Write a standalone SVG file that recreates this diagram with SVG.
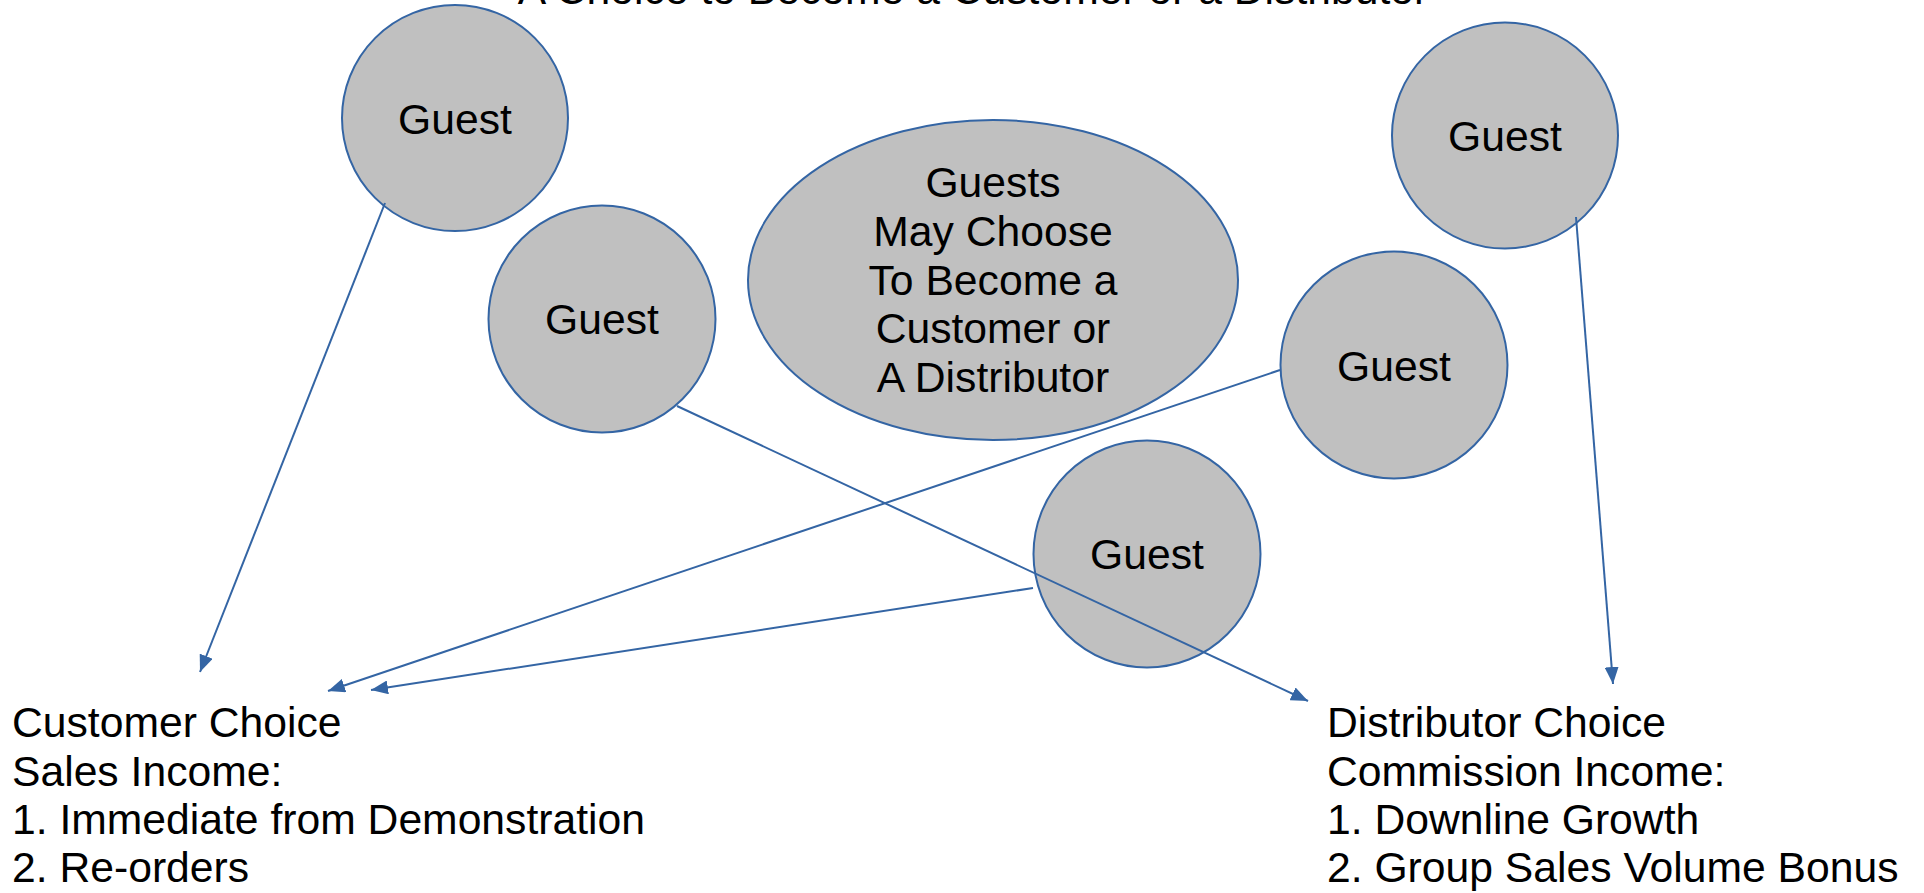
<svg xmlns="http://www.w3.org/2000/svg" width="1924" height="893" viewBox="0 0 1924 893">
<style>
.node{fill:#c0c0c0;stroke:#3465a4;stroke-width:2}
.t{font-family:"Liberation Sans",Arial,sans-serif;font-size:42.67px;fill:#000}
.c{text-anchor:middle}
.conn line{stroke:#3465a4;stroke-width:2;fill:none;marker-end:url(#ah)}
</style>
<defs>
<marker id="ah" markerUnits="userSpaceOnUse" markerWidth="18" markerHeight="14" viewBox="0 0 18 14" refX="17" refY="7" orient="auto">
<path d="M0,0 L17,7 L0,14 Z" fill="#3465a4"/>
</marker>
</defs>
<rect width="1924" height="893" fill="#fff"/>
<text id="title" class="t c" x="973" y="4">A Choice to Become a Customer or a Distributor</text>
<g id="guest1"><circle class="node" cx="455" cy="118" r="113"/><text class="t c" x="455" y="134">Guest</text></g>
<g id="guest2"><circle class="node" cx="602" cy="319" r="113.5"/><text class="t c" x="602" y="334">Guest</text></g>
<g id="center"><ellipse class="node" cx="993" cy="280" rx="245" ry="160"/>
<text class="t c" x="993"><tspan x="993" y="197">Guests</tspan><tspan x="993" y="246">May Choose</tspan><tspan x="993" y="295">To Become a</tspan><tspan x="993" y="343">Customer or</tspan><tspan x="993" y="392">A Distributor</tspan></text></g>
<g id="guest3"><circle class="node" cx="1505" cy="135.5" r="113"/><text class="t c" x="1505" y="151">Guest</text></g>
<g id="guest4"><circle class="node" cx="1394" cy="365" r="113.5"/><text class="t c" x="1394" y="381">Guest</text></g>
<g id="guest5"><circle class="node" cx="1147" cy="554" r="113.5"/><text class="t c" x="1147" y="569">Guest</text></g>
<g id="connectors" class="conn">
<line x1="385" y1="203" x2="200" y2="672"/>
<line x1="1280" y1="370" x2="328" y2="691"/>
<line x1="1033" y1="588" x2="371" y2="690"/>
<line x1="677" y1="406" x2="1308" y2="701"/>
<line x1="1576" y1="217" x2="1613" y2="684"/>
</g>
<g id="customer">
<text class="t" x="12"><tspan x="12" y="737">Customer Choice</tspan><tspan x="12" y="786">Sales Income:</tspan><tspan x="12" y="834">1. Immediate from Demonstration</tspan><tspan x="12" y="882">2. Re-orders</tspan></text>
</g>
<g id="distributor">
<text class="t" x="1327"><tspan x="1327" y="737">Distributor Choice</tspan><tspan x="1327" y="786">Commission Income:</tspan><tspan x="1327" y="834">1. Downline Growth</tspan><tspan x="1327" y="882">2. Group Sales Volume Bonus</tspan></text>
</g>
</svg>
